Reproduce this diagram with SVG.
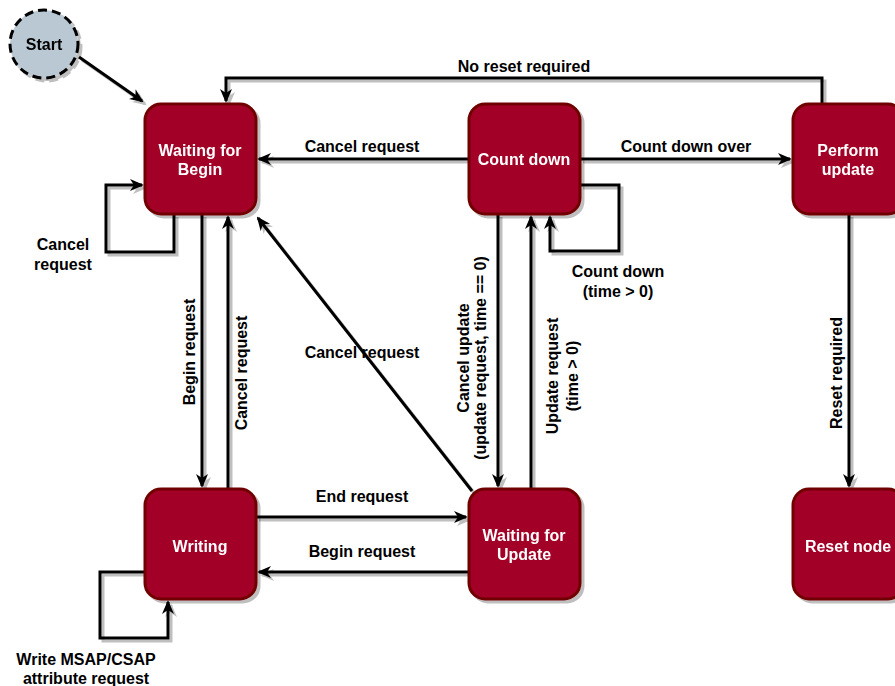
<svg xmlns="http://www.w3.org/2000/svg" width="895" height="686" viewBox="0 0 895 686">
<style>
.node rect{fill:#a20025;stroke:#6f0000;stroke-width:3}
.node text{fill:#ffffff;font-family:"Liberation Sans",Arial,sans-serif;font-weight:bold;font-size:16px;text-anchor:middle}
.edge{fill:none;stroke:#000;stroke-width:3}
.lbl{fill:#000;font-family:"Liberation Sans",Arial,sans-serif;font-weight:bold;font-size:16px;text-anchor:middle}
</style>
<defs>
<filter id="sh" x="-20%" y="-20%" width="140%" height="140%">
<feDropShadow dx="3" dy="3" stdDeviation="0.6" flood-color="#000" flood-opacity="0.25"/>
</filter>
<marker id="arr" viewBox="0 0 14 12" refX="12" refY="6" markerWidth="14" markerHeight="12" markerUnits="userSpaceOnUse" orient="auto">
<path d="M0,0 L14,6 L0,12 L4,6 z" fill="#000"/>
</marker>
</defs>

<g id="connectors" filter="url(#sh)">
<path class="edge" d="M79,57 L142,101" marker-end="url(#arr)"/>
<path class="edge" d="M822,104 V78 H226 V101" marker-end="url(#arr)"/>
<path class="edge" d="M469,159 H259" marker-end="url(#arr)"/>
<path class="edge" d="M580,159 H790" marker-end="url(#arr)"/>
<path class="edge" d="M580,185 H619 V251 H550 V217" marker-end="url(#arr)"/>
<path class="edge" d="M174,214 V252 H106 V185 H142" marker-end="url(#arr)"/>
<path class="edge" d="M202,214 V486" marker-end="url(#arr)"/>
<path class="edge" d="M228,489 V217" marker-end="url(#arr)"/>
<path class="edge" d="M472,491 L258,218" marker-end="url(#arr)"/>
<path class="edge" d="M256,517 H466" marker-end="url(#arr)"/>
<path class="edge" d="M469,572 H259" marker-end="url(#arr)"/>
<path class="edge" d="M145,572 H100 V638 H168 V602" marker-end="url(#arr)"/>
<path class="edge" d="M498,214 V486" marker-end="url(#arr)"/>
<path class="edge" d="M531,489 V217" marker-end="url(#arr)"/>
<path class="edge" d="M849,214 V486" marker-end="url(#arr)"/>
</g>

<g id="edge-labels">
<text class="lbl" x="524" y="72">No reset required</text>
<text class="lbl" x="362" y="152">Cancel request</text>
<text class="lbl" x="686" y="152">Count down over</text>
<text class="lbl" x="618" y="277">Count down<tspan x="618" y="297">(time &gt; 0)</tspan></text>
<text class="lbl" x="63" y="250">Cancel<tspan x="63" y="270">request</tspan></text>
<text class="lbl" transform="translate(195,352) rotate(-90)" x="0" y="0">Begin request</text>
<text class="lbl" transform="translate(247,373) rotate(-90)" x="0" y="0">Cancel request</text>
<text class="lbl" x="362" y="358">Cancel request</text>
<text class="lbl" x="362" y="502">End request</text>
<text class="lbl" x="362" y="557">Begin request</text>
<text class="lbl" x="86" y="665">Write MSAP/CSAP<tspan x="86" y="684">attribute request</tspan></text>
<text class="lbl" transform="translate(469,358) rotate(-90)" x="0" y="0">Cancel update<tspan x="0" y="17">(update request, time == 0)</tspan></text>
<text class="lbl" transform="translate(558,376) rotate(-90)" x="0" y="0">Update request<tspan x="0" y="20">(time &gt; 0)</tspan></text>
<text class="lbl" transform="translate(842,373) rotate(-90)" x="0" y="0">Reset required</text>
</g>

<g id="start" filter="url(#sh)">
<circle cx="44" cy="44" r="34" fill="#bac8d3" stroke="#000" stroke-width="3" stroke-dasharray="9,5"/>
<text class="lbl" x="44" y="50">Start</text>
</g>

<g id="waiting-for-begin" class="node" filter="url(#sh)">
<rect x="145" y="104" width="111" height="110" rx="16"/>
<text x="200" y="156">Waiting for<tspan x="200" y="175">Begin</tspan></text>
</g>
<g id="count-down" class="node" filter="url(#sh)">
<rect x="469" y="104" width="111" height="110" rx="16"/>
<text x="524" y="165">Count down</text>
</g>
<g id="perform-update" class="node" filter="url(#sh)">
<rect x="793" y="104" width="111" height="110" rx="16"/>
<text x="848" y="156">Perform<tspan x="848" y="175">update</tspan></text>
</g>
<g id="writing" class="node" filter="url(#sh)">
<rect x="145" y="489" width="111" height="110" rx="16"/>
<text x="200" y="552">Writing</text>
</g>
<g id="waiting-for-update" class="node" filter="url(#sh)">
<rect x="469" y="489" width="111" height="110" rx="16"/>
<text x="524" y="541">Waiting for<tspan x="524" y="560">Update</tspan></text>
</g>
<g id="reset-node" class="node" filter="url(#sh)">
<rect x="793" y="489" width="111" height="110" rx="16"/>
<text x="848" y="552">Reset node</text>
</g>
</svg>
